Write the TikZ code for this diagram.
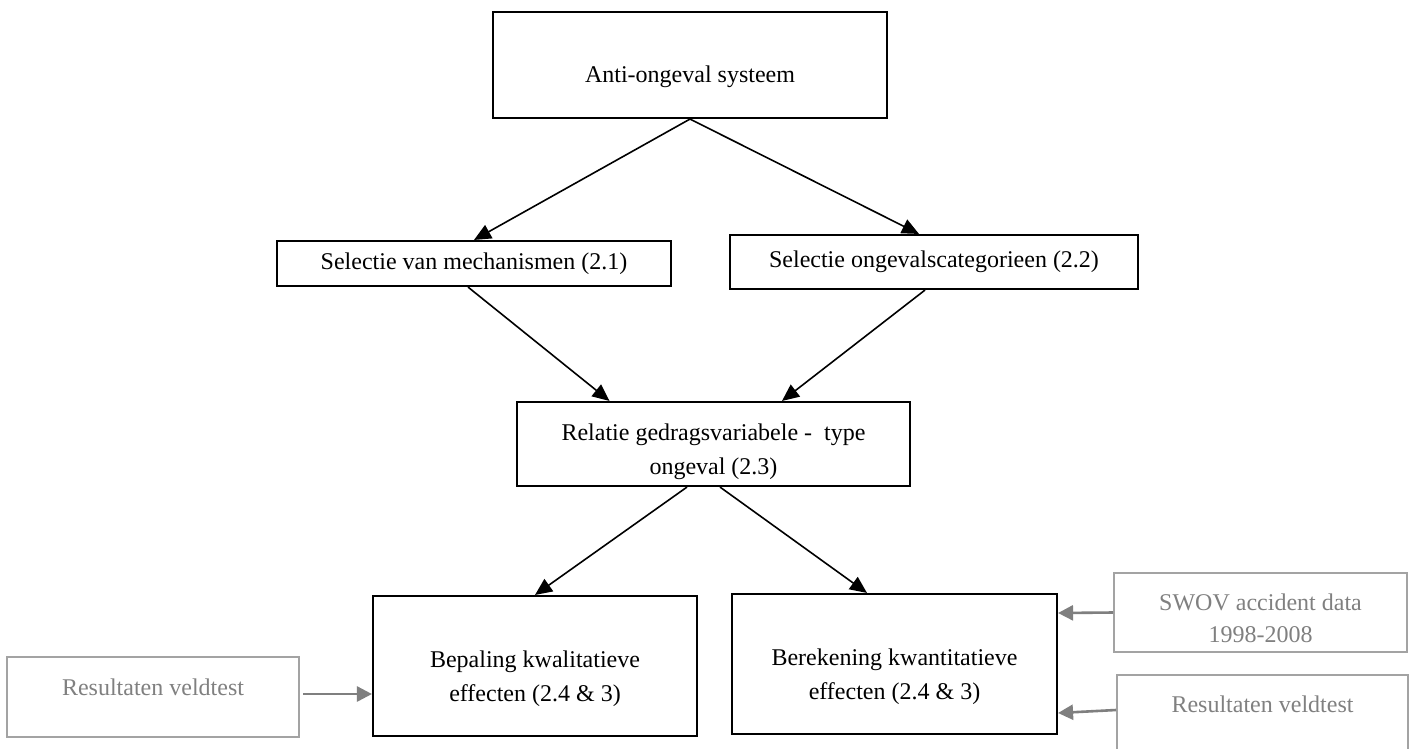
\documentclass[tikz,border=0pt]{standalone}
\usepackage{fontspec}
\setmainfont{Liberation Serif}
\usetikzlibrary{arrows.meta}
\definecolor{grayline}{HTML}{A3A3A3}
\definecolor{graytext}{HTML}{808080}
\definecolor{grayarrow}{HTML}{7F7F7F}
\newcommand\padtop[1]{\rule{0pt}{#1}}
\newcommand\padbot[1]{\rule[-#1]{0pt}{#1}}
\begin{document}
\begin{tikzpicture}[x=1pt,y=-1pt,
  box/.style={draw=black, line width=2.1pt, align=center, inner sep=0pt,
    font=\fontsize{24}{34}\selectfont},
  gbox/.style={draw=grayline, line width=2pt, align=center, inner sep=0pt,
    text=graytext, font=\fontsize{24}{32}\selectfont},
  arr/.style={line width=1.6pt, -{Triangle[length=17pt,width=15pt]}},
  garr/.style={draw=grayarrow, line width=2.6pt, -{Triangle[length=15pt,width=15pt]}}]
\useasboundingbox (0,0) rectangle (1413,748);
\clip (0,0) rectangle (1413,748);
\fill[white] (0,0) rectangle (1413,748);

\node[box, minimum width=394pt, minimum height=106pt] (top) at (690,65)
  {\padtop{40pt}Anti-ongeval systeem};
\node[box, minimum width=394pt, minimum height=45pt] (m1) at (474,263.5)
  {Selectie van mechanismen (2.1)};
\node[box, minimum width=408pt, minimum height=54pt] (m2) at (934,262)
  {Selectie ongevalscategorieen (2.2)};
\node[box, minimum width=393pt, minimum height=84pt] (mid) at (713.5,444)
  {\padtop{32pt}Relatie gedragsvariabele - \ type\\ongeval (2.3)};
\node[box, minimum width=324pt, minimum height=140pt] (b1) at (535,666)
  {\padtop{42pt}Bepaling kwalitatieve\\effecten (2.4 \& 3)};
\node[box, minimum width=325pt, minimum height=140pt] (b2) at (894.5,664)
  {\padtop{42pt}Berekening kwantitatieve\\effecten (2.4 \& 3)};

\node[gbox, minimum width=292pt, minimum height=80pt] (g1) at (153,697)
  {Resultaten veldtest\padbot{20pt}};
\node[gbox, minimum width=293pt, minimum height=79pt] (g2) at (1260.5,612.5)
  {\padtop{28pt}SWOV accident data\\1998-2008};
\node[gbox, minimum width=291pt, inner ysep=21pt, anchor=north] (g3) at (1262.5,674)
  {Resultaten veldtest\padbot{90pt}};

\draw[arr] (top.south) -- (m1.north);
\draw[arr] (top.south) -- ([xshift=-15pt]m2.north);
\draw[arr] ([xshift=-6pt]m1.south) -- ([xshift=-104pt]mid.north);
\draw[arr] ([xshift=-9pt]m2.south) -- ([xshift=68.5pt]mid.north);
\draw[arr] ([xshift=-26.5pt]mid.south) -- (b1.north);
\draw[arr] ([xshift=6.5pt]mid.south) -- ([xshift=-27.5pt]b2.north);

\coordinate (g1a) at ([yshift=3pt]g1.east);
\draw[garr] ([xshift=3pt]g1a) -- (g1a -| b1.west);
\draw[garr] (g2.west) -- ([yshift=51pt]b2.east);
\draw[garr] ([yshift=-36pt]g3.north west) -- ([yshift=-49pt]b2.east);
\end{tikzpicture}
\end{document}
